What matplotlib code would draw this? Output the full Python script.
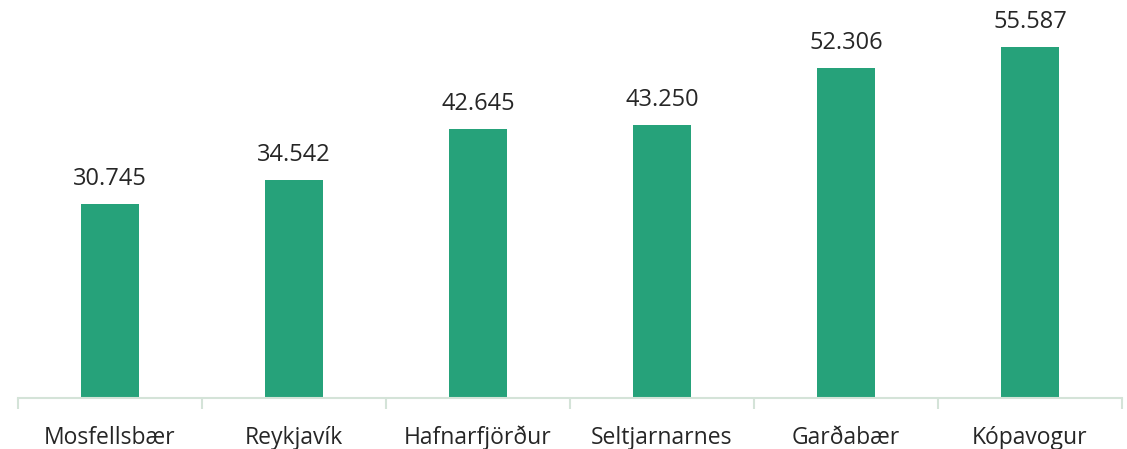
import matplotlib.pyplot as plt
import numpy as np

plt.rcParams['font.family'] = ['Open Sans', 'DejaVu Sans']

categories = ['Mosfellsbær', 'Reykjavík', 'Hafnarfjörður', 'Seltjarnarnes', 'Garðabær', 'Kópavogur']
values = [30745, 34542, 42645, 43250, 52306, 55587]

fig = plt.figure(figsize=(11.27, 4.49), dpi=100)
ax = fig.add_axes([18 / 1127, 51 / 449, 1104 / 1127, 398 / 449])

x = np.arange(len(categories))
bars = ax.bar(x, values, width=0.315, color='#26A27A', zorder=2)

for b, v in zip(bars, values):
    label = f'{v:,}'.replace(',', '.')
    ax.annotate(label, (b.get_x() + b.get_width() / 2, v), xytext=(0, 9.5),
                textcoords='offset points', ha='center', va='bottom',
                fontsize=17, color='#262626')

ax.set_xlim(-0.5, len(categories) - 0.5)
ax.set_ylim(0, 63070)

for s in ['top', 'right', 'left']:
    ax.spines[s].set_visible(False)
ax.spines['bottom'].set_color('#D4E3D8')
ax.spines['bottom'].set_linewidth(1.5)

ax.set_yticks([])
ax.set_xticks(np.arange(-0.5, len(categories), 1.0))
ax.set_xticklabels([])
ax.tick_params(axis='x', which='major', length=8, color='#D4E3D8', width=1.5)
ax.set_xticks(x, minor=True)
ax.set_xticklabels(categories, minor=True, fontsize=16.5, color='#262626')
ax.tick_params(axis='x', which='minor', length=0, pad=20)

fig.savefig('out.png', dpi=100)
